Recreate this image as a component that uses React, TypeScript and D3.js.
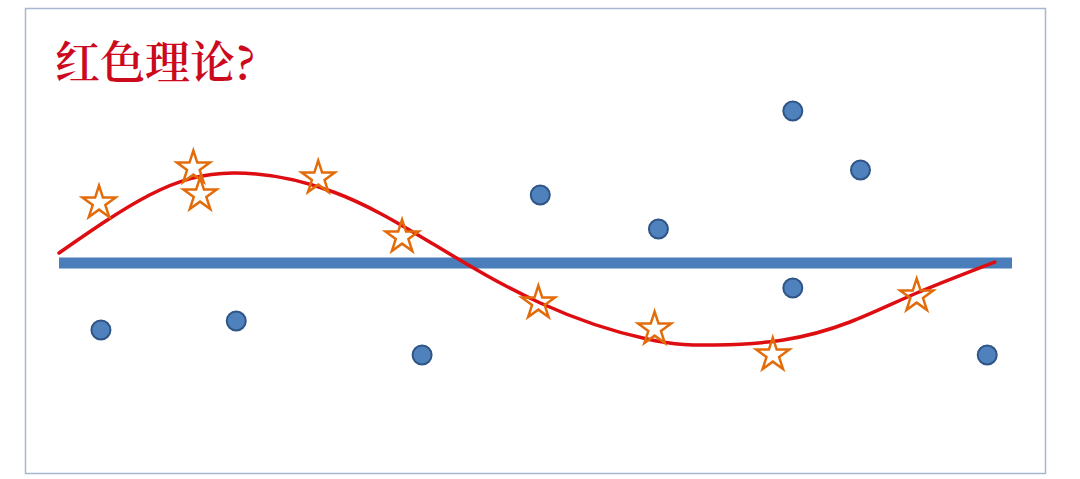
import React, { useEffect, useRef } from 'react';
import * as d3 from 'd3';

// chart units: x 0..100 along the baseline, y -1..1 around it
const dotX = [4.4, 18.6, 38.1, 50.5, 62.9, 77.0, 77.0, 84.1, 97.4];
const dotY = [-0.67, -0.58, -0.92, 0.68, 0.34, 1.52, -0.25, 0.93, -0.92];

const starX = [4.2, 14.1, 14.8, 27.2, 36.0, 50.3, 62.5, 74.9, 90.0];
const starY = [0.6, 0.95, 0.68, 0.85, 0.26, -0.4, -0.66, -0.92, -0.33];

const curveX = [0, 9.5, 18.3, 28.8, 38.9, 50.5, 61.7, 68.8, 76.0, 83.0, 90.0, 98.2];
const curveY = [0.1, 0.68, 0.9, 0.71, 0.21, -0.4, -0.76, -0.82, -0.77, -0.59, -0.3, 0.01];

const baseline = [0, 100];
const title = '红色理论?';

const W = 1080;
const H = 479;

const App = () => {
  const svgRef = useRef<SVGSVGElement>(null);

  useEffect(() => {
    const svg = d3.select(svgRef.current);
    svg.selectAll('*').remove();

    const x = d3.scaleLinear().domain([0, 100]).range([59, 1012]);
    const y = d3.scaleLinear().domain([-1, 1]).range([363, 163]);

    svg.append('rect').attr('width', W).attr('height', H).attr('fill', '#ffffff');

    // frame
    svg
      .append('rect')
      .attr('x', 25.5)
      .attr('y', 8.5)
      .attr('width', 1020)
      .attr('height', 465)
      .attr('fill', 'none')
      .attr('stroke', '#a9b9cd')
      .attr('stroke-width', 1.5);

    // title
    svg
      .append('text')
      .attr('x', 55)
      .attr('y', 79)
      .attr('fill', '#cc0a1e')
      .style('font-family', '"Noto Serif CJK SC", "Noto Sans CJK SC", serif')
      .style('font-size', '45px')
      .style('font-weight', 600)
      .text(title);

    // blue baseline
    svg
      .append('line')
      .attr('x1', x(baseline[0]))
      .attr('x2', x(baseline[1]))
      .attr('y1', y(0))
      .attr('y2', y(0))
      .attr('stroke', '#4a7ebb')
      .attr('stroke-width', 11);

    // dots
    svg
      .selectAll('.dot')
      .data(dotX)
      .enter()
      .append('circle')
      .attr('class', 'dot')
      .attr('cx', (d) => x(d))
      .attr('cy', (d, i) => y(dotY[i]))
      .attr('r', 9.5)
      .attr('fill', '#4f81bd')
      .attr('stroke', '#2f5587')
      .attr('stroke-width', 2);

    // red curve
    const pts = curveX.map((d, i) => [x(d), y(curveY[i])] as [number, number]);
    svg
      .append('path')
      .attr('d', d3.line().curve(d3.curveNatural)(pts))
      .attr('fill', 'none')
      .attr('stroke', '#dd0d12')
      .attr('stroke-width', 3.5)
      .attr('stroke-linecap', 'round');

    // stars
    const star = d3.symbol().type(d3.symbolStar).size(340);
    svg
      .selectAll('.star')
      .data(starX)
      .enter()
      .append('path')
      .attr('class', 'star')
      .attr('d', star)
      .attr('transform', (d, i) => `translate(${x(d)}, ${y(starY[i])})`)
      .attr('fill', 'none')
      .attr('stroke', '#e36c0a')
      .attr('stroke-width', 2.5)
      .attr('stroke-linejoin', 'miter');
  }, []);

  return (
    <svg
      ref={svgRef}
      width={W}
      height={H}
      style={{ position: 'fixed', left: 0, top: 0, display: 'block' }}
    ></svg>
  );
};

export default App;
